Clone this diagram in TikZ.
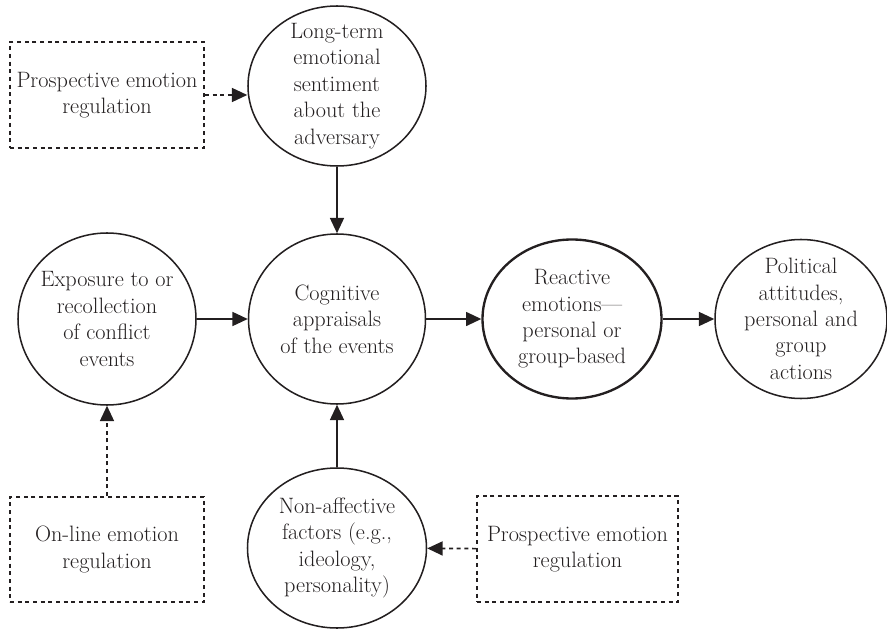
\documentclass[tikz,border=0pt]{standalone}
\usepackage{tikz}
\usetikzlibrary{shapes.geometric,arrows.meta}
\definecolor{ink}{HTML}{231F20}
\tikzset{
  circ/.style={draw=ink, ellipse, line width=1.3pt, inner sep=-5mm, align=center, text=ink,
    font=\fontsize{19}{22.5}\selectfont},
  circb/.style={circ, line width=2pt},
  regbox/.style={draw=ink, rectangle, line width=1.6pt, dash pattern=on 1.2mm off 1.1mm,
    inner sep=0pt, align=center, text=ink, font=\fontsize{19}{22.5}\selectfont},
  link/.style={draw=ink, line width=1.4pt, -{Triangle[length=4.6mm,width=4.2mm]}},
  dlink/.style={link, dash pattern=on 1.2mm off 1.1mm},
}
\begin{document}
\begin{tikzpicture}[x=0.3mm,y=-0.3mm]
  \useasboundingbox (0,0) rectangle (887,630);
  % circles
  \node[circ, minimum width=53.4mm, minimum height=48mm] (lt) at (337,86)
    {Long-term\\emotional\\sentiment\\about the\\adversary};
  \node[circ, minimum width=53.4mm, minimum height=51.6mm] (exp) at (107,319)
    {Exposure to or\\recollection\\of conflict\\events};
  \node[circ, minimum width=53.1mm, minimum height=51mm] (cog) at (337,319)
    {Cognitive\\appraisals\\of the events};
  \node[circb, minimum width=53.7mm, minimum height=47.7mm] (rea) at (572,319)
    {Reactive\\emotions---\\personal or\\group-based};
  \node[circ, minimum width=51.6mm, minimum height=47.7mm] (pol) at (801,319)
    {Political\\attitudes,\\personal and\\group\\actions};
  \node[circ, minimum width=53.7mm, minimum height=48mm] (non) at (337,548)
    {Non-affective\\factors (e.g.,\\ideology,\\personality)};
  % regulation boxes
  \node[regbox, minimum width=58.2mm, minimum height=31.8mm] (pre1) at (107,95)
    {Prospective emotion\\regulation};
  \node[regbox, minimum width=58.2mm, minimum height=31.5mm] (onl) at (107,549.5)
    {On-line emotion\\regulation};
  \node[regbox, minimum width=60.3mm, minimum height=31.8mm] (pre2) at (577.5,549)
    {Prospective emotion\\regulation};
  % connectors
  \draw[link] (lt) -- (cog);
  \draw[link] (exp) -- (cog);
  \draw[link] (cog) -- (rea);
  \draw[link] (rea) -- (pol);
  \draw[link] (non) -- (cog);
  \draw[dlink] (pre1.east) -- (lt.west |- pre1.east);
  \draw[dlink] (onl) -- (exp);
  \draw[dlink] (pre2) -- (non);
\end{tikzpicture}
\end{document}
